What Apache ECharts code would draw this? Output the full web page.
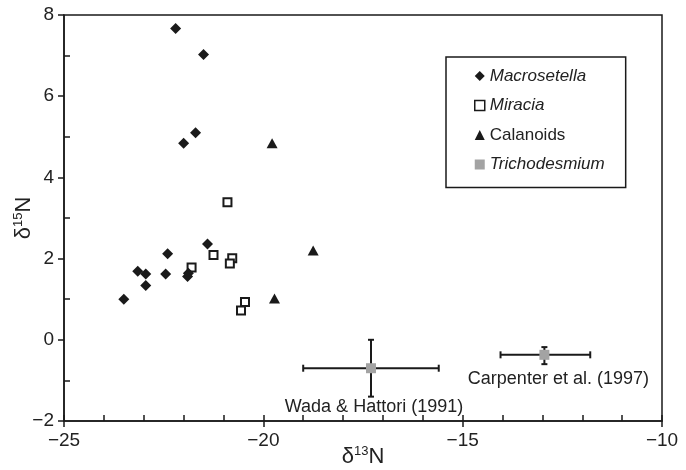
<!DOCTYPE html>
<html>
<head>
<meta charset="utf-8">
<script src="https://cdn.jsdelivr.net/npm/echarts@6/dist/echarts.min.js"></script>
<style>html,body{margin:0;padding:0;background:#fff;}#chart{width:686px;height:470px;}</style>
</head>
<body>
<div id="chart"></div>
<script>
// ---- data ----
const seriesNames = ['Macrosetella', 'Miracia', 'Calanoids', 'Trichodesmium'];
const macroX = [-22.2, -21.5, -21.7, -22.0, -21.4, -22.4, -23.15, -22.95, -22.95, -22.45, -21.88, -21.9, -23.5];
const macroY = [7.67, 7.03, 5.1, 4.84, 2.36, 2.12, 1.69, 1.62, 1.34, 1.62, 1.64, 1.56, 1.0];
const miraciaX = [-20.9, -21.25, -21.8, -20.78, -20.84, -20.46, -20.56];
const miraciaY = [3.39, 2.09, 1.78, 2.01, 1.88, 0.93, 0.72];
const calanX = [-19.78, -18.75, -19.72];
const calanY = [4.84, 2.2, 1.02];
const trichoX = [-17.3, -12.95];
const trichoY = [-0.7, -0.37];
const trichoXLow = [-19.0, -14.05];
const trichoXHigh = [-15.6, -11.8];
const trichoYLow = [-1.4, -0.6];
const trichoYHigh = [0.0, -0.18];
const refLabels = ['Wada & Hattori (1991)', 'Carpenter et al. (1997)'];
const xTicks = [-25, -20, -15, -10];
const yTicks = [-2, 0, 2, 4, 6, 8];

// ---- chart ----
const INK = '#1a1a1a';
const FONT = '"Liberation Sans", Arial, Helvetica, sans-serif';
const zip = (a, b) => a.map((v, i) => [v, b[i]]);
const minusFmt = v => String(v).replace('-', '\u2212');
const labelOffsets = [[3, 39], [14, 24]];
const nameRich = {
  d: {fontSize: 22, fontFamily: FONT, color: '#222', lineHeight: 24},
  s: {fontSize: 13, fontFamily: FONT, color: '#222', verticalAlign: 'top', lineHeight: 14},
  n: {fontSize: 22, fontFamily: FONT, color: '#222', lineHeight: 24}
};

const chart = echarts.init(document.getElementById('chart'), null, {renderer: 'canvas'});
const option = {
  animation: false,
  backgroundColor: '#fff',
  textStyle: {fontFamily: FONT},
  grid: {left: 64, right: 24, top: 15, bottom: 49, outerBoundsMode: 'none', containLabel: false,
    show: true, borderColor: INK, borderWidth: 1.5, backgroundColor: 'transparent'},
  xAxis: [{
    type: 'value', min: xTicks[0], max: xTicks[xTicks.length - 1], interval: 5, position: 'bottom',
    axisLine: {show: true, onZero: false, lineStyle: {color: INK, width: 1.5}},
    axisTick: {show: true, inside: false, length: 6, lineStyle: {color: INK, width: 1.5}},
    axisLabel: {fontSize: 19, color: '#222', margin: 10, formatter: minusFmt, fontFamily: FONT},
    splitLine: {show: false},
    name: '{d|δ}{s|13}{n|N}', nameLocation: 'middle', nameGap: 24, nameMoveOverlap: false,
    nameTextStyle: {color: '#222', fontFamily: FONT, rich: nameRich}
  }, {
    type: 'value', min: xTicks[0], max: xTicks[xTicks.length - 1], interval: 1, position: 'bottom',
    axisLine: {show: false, onZero: false},
    axisTick: {show: true, inside: true, length: 6, lineStyle: {color: INK, width: 1.5}},
    axisLabel: {show: false}, splitLine: {show: false}
  }],
  yAxis: [{
    type: 'value', min: yTicks[0], max: yTicks[yTicks.length - 1], interval: 2, position: 'left',
    axisLine: {show: true, onZero: false, lineStyle: {color: INK, width: 1.5}},
    axisTick: {show: true, inside: false, length: 6, lineStyle: {color: INK, width: 1.5}},
    axisLabel: {fontSize: 19, color: '#222', margin: 10, formatter: minusFmt, fontFamily: FONT},
    splitLine: {show: false},
    name: '{d|δ}{s|15}{n|N}', nameLocation: 'middle', nameGap: 28, nameMoveOverlap: false,
    nameTextStyle: {color: '#222', fontFamily: FONT, rich: nameRich}
  }, {
    type: 'value', min: yTicks[0], max: yTicks[yTicks.length - 1], interval: 2, position: 'left',
    axisLine: {show: false, onZero: false},
    axisTick: {show: false, inside: true},
    minorTick: {show: true, splitNumber: 2, length: 6, lineStyle: {color: INK, width: 1.5}},
    axisLabel: {show: false}, splitLine: {show: false}, minorSplitLine: {show: false}
  }],
  legend: {
    data: seriesNames.map(n => n === 'Miracia' ? {name: n, itemStyle: {borderWidth: 1.5}} : n),
    orient: 'vertical', left: 446, top: 57,
    padding: [9, 21, 13, 28], itemGap: 9.5, itemWidth: 10, itemHeight: 10,
    borderColor: INK, borderWidth: 1.5,
    formatter: n => n === 'Calanoids' ? '{n|' + n + '}' : '{i|' + n + '}',
    textStyle: {fontSize: 17, color: '#222', fontFamily: FONT, lineHeight: 20, rich: {
      i: {fontSize: 17, fontStyle: 'italic', fontFamily: FONT, color: '#222', lineHeight: 20},
      n: {fontSize: 17, fontFamily: FONT, color: '#222', lineHeight: 20}
    }}
  },
  series: [{
    type: 'custom', name: 'errorbars', z: 2, silent: true,
    data: trichoX.map((x, i) => [x, trichoY[i], trichoXLow[i], trichoXHigh[i], trichoYLow[i], trichoYHigh[i]]),
    renderItem: (params, api) => {
      const x = api.value(0), y = api.value(1);
      const pL = api.coord([api.value(2), y]);
      const pH = api.coord([api.value(3), y]);
      const pB = api.coord([x, api.value(4)]);
      const pT = api.coord([x, api.value(5)]);
      const st = {stroke: INK, lineWidth: 2};
      const cx = 3.5, cy = 3;
      return {type: 'group', children: [
        {type: 'line', shape: {x1: pL[0], y1: pL[1], x2: pH[0], y2: pH[1]}, style: st},
        {type: 'line', shape: {x1: pL[0], y1: pL[1] - cx, x2: pL[0], y2: pL[1] + cx}, style: st},
        {type: 'line', shape: {x1: pH[0], y1: pH[1] - cx, x2: pH[0], y2: pH[1] + cx}, style: st},
        {type: 'line', shape: {x1: pB[0], y1: pB[1], x2: pT[0], y2: pT[1]}, style: st},
        {type: 'line', shape: {x1: pB[0] - cy, y1: pB[1], x2: pB[0] + cy, y2: pB[1]}, style: st},
        {type: 'line', shape: {x1: pT[0] - cy, y1: pT[1], x2: pT[0] + cy, y2: pT[1]}, style: st}
      ]};
    }
  }, {
    type: 'scatter', name: seriesNames[1], z: 3, symbol: 'rect', symbolSize: 8,
    itemStyle: {color: '#fff', borderColor: INK, borderWidth: 2, opacity: 1},
    data: zip(miraciaX, miraciaY)
  }, {
    type: 'scatter', name: seriesNames[0], z: 4, symbol: 'diamond', symbolSize: 11,
    itemStyle: {color: INK, opacity: 1},
    data: zip(macroX, macroY)
  }, {
    type: 'scatter', name: seriesNames[2], z: 4, symbol: 'triangle', symbolSize: [11, 10],
    itemStyle: {color: INK, opacity: 1},
    data: zip(calanX, calanY)
  }, {
    type: 'scatter', name: seriesNames[3], z: 5, symbol: 'rect', symbolSize: 10,
    itemStyle: {color: '#a3a3a3', opacity: 1},
    data: trichoX.map((x, i) => ({
      value: [x, trichoY[i]],
      label: {show: true, position: 'inside', offset: labelOffsets[i], formatter: refLabels[i],
        fontSize: 18, color: '#222', fontFamily: FONT}
    }))
  }]
};
chart.setOption(option);
</script>
</body>
</html>
